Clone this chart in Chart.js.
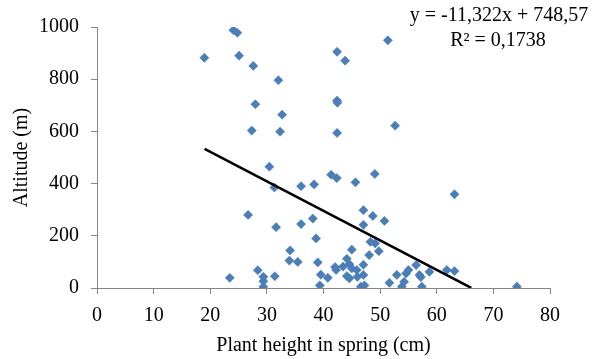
<!DOCTYPE html>
<html>
<head>
<meta charset="utf-8">
<script src="https://cdn.jsdelivr.net/npm/chart.js@4"></script>
<style>
html,body{margin:0;padding:0;background:#fff;}
#wrap{width:598px;height:359px;position:relative;}
</style>
</head>
<body>
<div id="wrap"><canvas id="c" width="598" height="359"></canvas></div>
<script>
const plantHeight = [18.96,24.08,24.79,25.09,27.6,27.97,27.33,32.03,32.69,32.33,42.4,43.82,51.36,42.4,42.46,42.4,52.65,30.44,31.33,36.04,38.34,41.34,42.35,45.64,49.06,63.13,26.68,31.63,36.04,38.11,38.69,47.05,48.71,50.76,47.05,48.29,49.12,49.77,48.06,45.0,34.1,33.98,35.46,28.39,29.38,29.38,29.38,31.4,38.99,39.52,40.76,39.35,42.05,42.23,43.46,44.12,44.58,45.0,44.12,44.58,45.88,47.05,47.05,45.99,46.59,47.23,51.64,52.95,53.83,54.24,54.59,55.0,56.36,56.94,57.2,57.37,58.71,61.78,63.13,74.15,23.45];
const altitude = [882,988,978,890,851,704,603,796,664,599,905,871,949,718,710,594,622,465,385,390,397,434,421,405,437,359,280,233,245,266,190,298,276,257,242,177,171,141,126,147,144,105,100,68,43,26,5,45,98,51,39,10,80,69,82,112,91,75,46,37,69,89,50,43,5,10,20,50,5,24,56,69,88,50,42,5,62,69,65,5,39];
const trendSlope = -11.322;
const trendIntercept = 748.57;
const trendRange = [19, 66.1];
const xTicks = [0,10,20,30,40,50,60,70,80];
const yTicks = [0,200,400,600,800,1000];
const equationLines = ['y = -11,322x + 748,57', 'R² = 0,1738'];
const xTitle = 'Plant height in spring (cm)';
const yTitle = 'Altitude (m)';

const points = plantHeight.map((x,i)=>({x:x, y:altitude[i]}));
const trend = trendRange.map(x=>({x:x, y:trendSlope*x+trendIntercept}));

const FONT = '"Liberation Serif", "Times New Roman", serif';
const AXIS = '#868686';

const eqPlugin = {
  id:'eq',
  afterDraw(chart){
    const ctx = chart.ctx;
    ctx.save();
    ctx.font = '20px ' + FONT;
    ctx.fillStyle = '#000';
    ctx.textAlign = 'center';
    ctx.textBaseline = 'middle';
    ctx.fillText(equationLines[0], 499, 16);
    ctx.fillText(equationLines[1], 498, 41);
    ctx.restore();
  }
};

new Chart(document.getElementById('c'), {
  type:'scatter',
  data:{
    datasets:[
      {type:'line', data:trend, borderColor:'#000', borderWidth:2.5, pointRadius:0, fill:false, order:0},
      {type:'scatter', data:points, pointStyle:'rectRot', pointRadius:4.6, backgroundColor:'#4a7ebb', borderColor:'#4a7ebb', borderWidth:0.5, order:1}
    ]
  },
  options:{
    responsive:false,
    animation:false,
    events:[],
    layout:{padding:{top:27,right:48,bottom:0,left:0}},
    plugins:{legend:{display:false}, tooltip:{enabled:false}},
    scales:{
      x:{
        type:'linear', min:0, max:80,
        afterBuildTicks(s){ s.ticks = xTicks.map(v=>({value:v})); },
        afterFit(s){ s.height = 71; },
        grid:{display:true, drawOnChartArea:false, drawTicks:true, tickLength:6, color:AXIS, lineWidth:1},
        border:{display:true, color:AXIS, width:1},
        ticks:{color:'#000', font:{family:FONT, size:20}, padding:10, maxRotation:0, callback:v=>String(v)},
        title:{display:true, text:xTitle, color:'#000', font:{family:FONT, size:20}, padding:{top:0,bottom:1}}
      },
      y:{
        type:'linear', min:0, max:1000,
        afterBuildTicks(s){ s.ticks = yTicks.map(v=>({value:v})); },
        afterFit(s){ s.width = 97; },
        grid:{display:true, drawOnChartArea:false, drawTicks:true, tickLength:6, color:AXIS, lineWidth:1},
        border:{display:true, color:AXIS, width:1},
        ticks:{color:'#000', font:{family:FONT, size:20}, padding:12, callback:v=>String(v)},
        title:{display:true, text:yTitle, color:'#000', font:{family:FONT, size:20}, padding:{top:10,bottom:0}}
      }
    }
  },
  plugins:[eqPlugin]
});
</script>
</body>
</html>
